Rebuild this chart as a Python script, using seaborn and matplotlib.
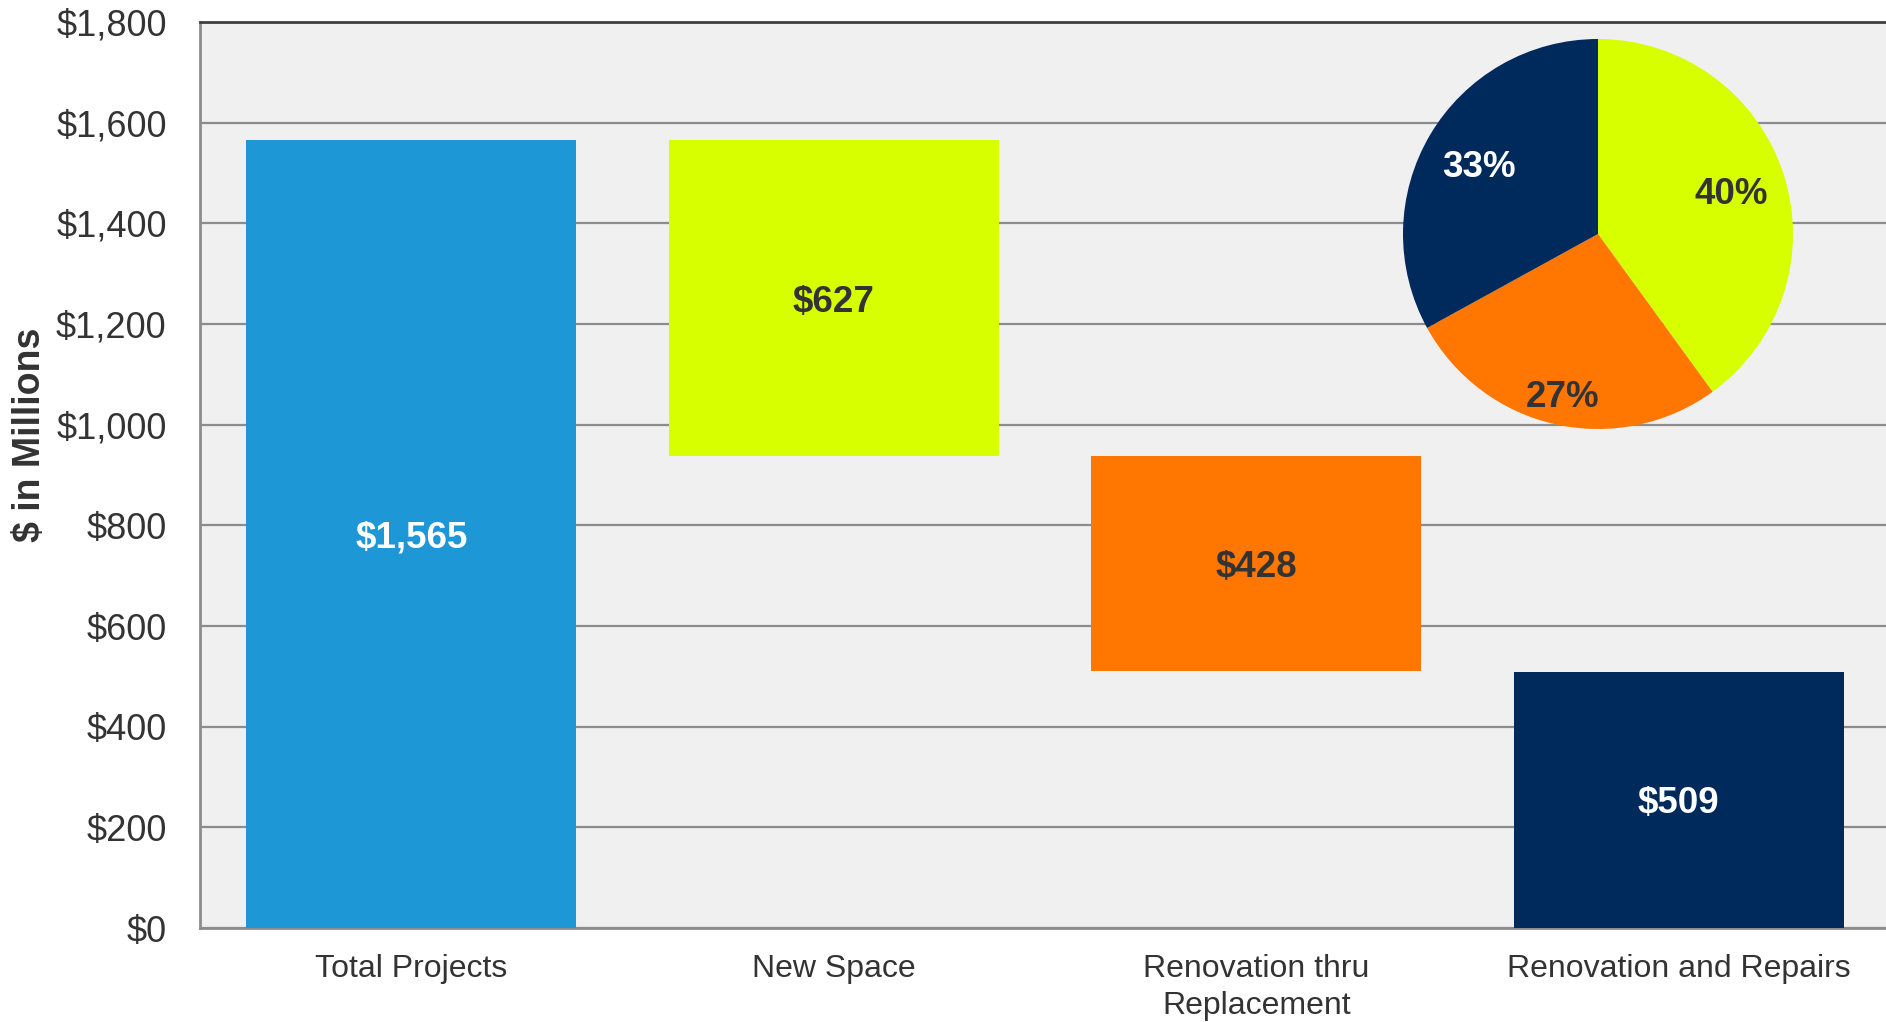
import numpy as np
import pandas as pd
import matplotlib
matplotlib.use("Agg")
import matplotlib.pyplot as plt
import seaborn as sns

# Capital plan breakdown ($ in millions)
categories = ["Total Projects", "New Space", "Renovation thru\nReplacement", "Renovation and Repairs"]
amounts = [1565, 627, 428, 509]
bar_colors = ["#1D97D5", "#D7FF00", "#FF7700", "#002A5C"]
value_text_colors = ["white", "#333333", "#333333", "white"]

# Share of the total by project type (pie inset)
share_labels = ["New Space", "Renovation thru Replacement", "Renovation and Repairs"]
share_pct = [40, 27, 33]
share_colors = ["#D7FF00", "#FF7700", "#002A5C"]
share_text_colors = ["#333333", "#333333", "white"]

y_ticks = [0, 200, 400, 600, 800, 1000, 1200, 1400, 1600, 1800]

sns.set_style("white")
plt.rcParams["font.family"] = ["Liberation Sans", "DejaVu Sans"]

# Waterfall: each component bar floats on top of the ones that follow it
bottoms = [0]
remaining = amounts[0]
for v in amounts[1:]:
    remaining -= v
    bottoms.append(max(remaining, 0))
bottoms[-1] = 0

df = pd.DataFrame({"category": categories, "amount": amounts})

fig = plt.figure(figsize=(18.86, 10.22), dpi=100)
ax = fig.add_axes([200 / 1886, 94 / 1022, 1690 / 1886, 906 / 1022])
ax.set_facecolor("#F0F0F0")

sns.barplot(data=df, x="category", y="amount", order=categories, ax=ax,
            width=0.78, color=bar_colors[0], saturation=1, zorder=3)
for patch, base, col in zip(ax.patches, bottoms, bar_colors):
    patch.set_y(base)
    patch.set_facecolor(col)
    patch.set_edgecolor("none")

for i, (v, base, tc) in enumerate(zip(amounts, bottoms, value_text_colors)):
    ax.text(i, base + v / 2, f"${v:,}", ha="center", va="center_baseline",
            fontsize=26.5, fontweight="bold", color=tc, zorder=4)

ax.set_xlim(-0.5, 3.5)
ax.set_ylim(0, 1800)
ax.set_yticks(y_ticks)
ax.set_yticklabels([f"${t:,}" for t in y_ticks])
ax.yaxis.grid(True, color="#8C8C8C", linewidth=1.6)
ax.xaxis.grid(False)
ax.set_axisbelow(True)

ax.set_xlabel("")
ax.set_ylabel("")
ax.set_xticks(range(len(categories)))
ax.set_xticklabels(categories, fontsize=23, color="#333333", linespacing=1.27)
ax.set_xticks([-0.5, 0.5, 1.5, 2.5], minor=True)
ax.tick_params(axis="x", which="major", length=0, pad=19)
ax.tick_params(axis="x", which="minor", length=8, width=1.6, color="#8C8C8C", direction="out")
ax.tick_params(axis="y", which="major", length=8, width=1.6, color="#8C8C8C",
               direction="out", pad=16, labelsize=26, labelcolor="#333333")

for side in ["left", "bottom"]:
    ax.spines[side].set_color("#8C8C8C")
    ax.spines[side].set_linewidth(2)
ax.spines["top"].set_color("#404040")
ax.spines["top"].set_linewidth(2)
ax.spines["right"].set_visible(False)

fig.text(30 / 1886, 1 - 435 / 1022, "$ in Millions", rotation=90, ha="center",
         va="center", fontsize=27, fontweight="bold", color="#333333")

# Pie inset with the share of each project type
pie_ax = fig.add_axes([(1598 - 195) / 1886, (1022 - 234 - 195) / 1022, 390 / 1886, 390 / 1022])
wedges, _ = pie_ax.pie(share_pct, colors=share_colors, startangle=90, counterclock=False,
                       radius=1.0, wedgeprops=dict(linewidth=0))
pie_ax.set_xlim(-1, 1)
pie_ax.set_ylim(-1, 1)
pie_ax.set_aspect("equal")
pie_ax.axis("off")
label_dist = [0.72, 0.84, 0.71]
for w, pct, tc, d in zip(wedges, share_pct, share_text_colors, label_dist):
    ang = np.deg2rad((w.theta1 + w.theta2) / 2)
    pie_ax.text(d * np.cos(ang), d * np.sin(ang), f"{pct}%", ha="center", va="center_baseline",
                fontsize=26.5, fontweight="bold", color=tc)

fig.savefig("out.png", dpi=100, facecolor="white")
